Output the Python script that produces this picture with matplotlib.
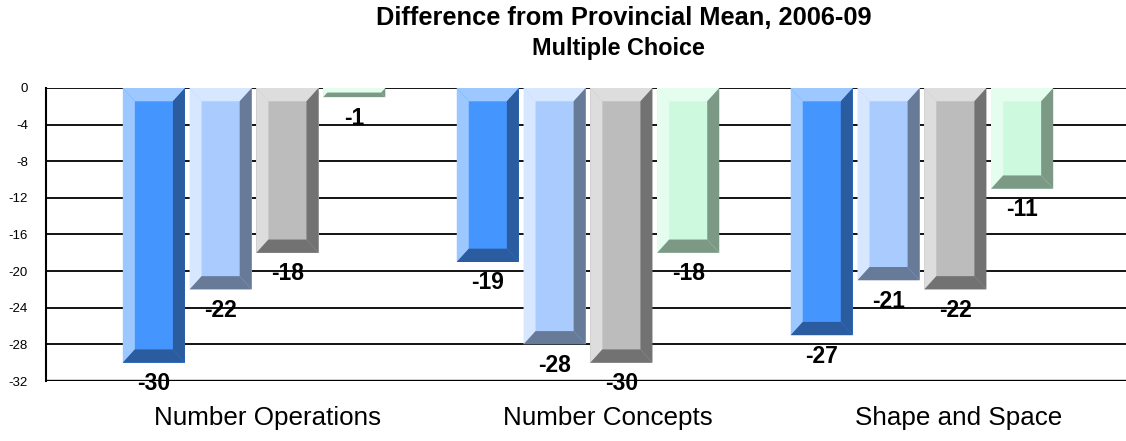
import matplotlib.pyplot as plt
from matplotlib.patches import Polygon

# values
categories = ["Number Operations", "Number Concepts", "Shape and Space"]
series_a = [-30, -19, -27]
series_b = [-22, -28, -21]
series_c = [-18, -30, -22]
series_d = [-1, -18, -11]
y_ticks = [0, -4, -8, -12, -16, -20, -24, -28, -32]

# (light, main, dark) for the bevelled look
palettes = [
    ("#9cc8ff", "#4595ff", "#2a5c9f"),
    ("#d6e7ff", "#a9cbfd", "#677a98"),
    ("#dddddd", "#bcbcbc", "#727272"),
    ("#e5fdef", "#cdf9df", "#7c9986"),
]

plt.rcParams['font.family'] = ['Liberation Sans', 'DejaVu Sans']

fig = plt.figure(figsize=(11.26, 4.41), dpi=100)
ax = fig.add_axes([46 / 1126, 1 - 381 / 441, 1 - 46 / 1126, (381 - 88) / 441])

ax.set_ylim(-32, 0)
ax.set_xlim(-0.623, 2.611)

# grid lines behind the bars
for t in y_ticks:
    ax.axhline(t, color="black", lw=1.7 if t == -32 else 1.3, zorder=1)
ax.axvline(-0.623, color="black", lw=1.5, zorder=1, clip_on=False)

width = 0.186
step = 0.2
bev_x = 0.036
bev_y = 1.45


def bevel_bar(ax, xc, v, cols):
    light, main, dark = cols
    x0, x1 = xc - width / 2, xc + width / 2
    by = min(bev_y, abs(v) / 2)
    bx = bev_x * by / bev_y
    top, bot = 0, v
    it, ib = top - by, bot + by
    ax.add_patch(Polygon([(x0, top), (x1, top), (x1, bot), (x0, bot)],
                         closed=True, fc=main, ec="none", zorder=3))
    # top and left faces, lighter
    ax.add_patch(Polygon([(x0, top), (x1, top), (x1 - bx, it), (x0 + bx, it)],
                         closed=True, fc=light, ec="none", zorder=4))
    ax.add_patch(Polygon([(x0, top), (x0 + bx, it), (x0 + bx, ib), (x0, bot)],
                         closed=True, fc=light, ec="none", zorder=4))
    # right and bottom faces, darker
    ax.add_patch(Polygon([(x1, top), (x1, bot), (x1 - bx, ib), (x1 - bx, it)],
                         closed=True, fc=dark, ec="none", zorder=4))
    ax.add_patch(Polygon([(x0, bot), (x1, bot), (x1 - bx, ib), (x0 + bx, ib)],
                         closed=True, fc=dark, ec="none", zorder=4))


all_series = [series_a, series_b, series_c, series_d]
for si, vals in enumerate(all_series):
    off = (si - 1.5) * step
    for gi, v in enumerate(vals):
        xc = gi + off
        bevel_bar(ax, xc, v, palettes[si])
        ax.annotate(str(v), (xc, v), xytext=(0, -21), textcoords="offset pixels",
                    ha="center", va="center", fontsize=16.5, fontweight="bold",
                    color="black", zorder=6, annotation_clip=False)

ax.set_yticks(y_ticks)
ax.set_yticklabels([str(t) for t in y_ticks], fontsize=9.5,
                   family=['Liberation Sans Narrow', 'Liberation Sans'])
ax.tick_params(axis="y", length=0, pad=13)

label_shift = [0.04, 0.06, 0.11]
ax.set_xticks([i + s for i, s in enumerate(label_shift)])
ax.set_xticklabels(categories, fontsize=18.7)
ax.tick_params(axis="x", length=0, pad=18)

for sp in ax.spines.values():
    sp.set_visible(False)

fig.text(624 / 1126, 1 - 18 / 441, "Difference from Provincial Mean, 2006-09",
         ha="center", va="center", fontsize=18.3, fontweight="bold")
fig.text(618 / 1126, 1 - 49 / 441, "Multiple Choice",
         ha="center", va="center", fontsize=16.8, fontweight="bold")

fig.savefig("out.png", dpi=100, facecolor="white")
